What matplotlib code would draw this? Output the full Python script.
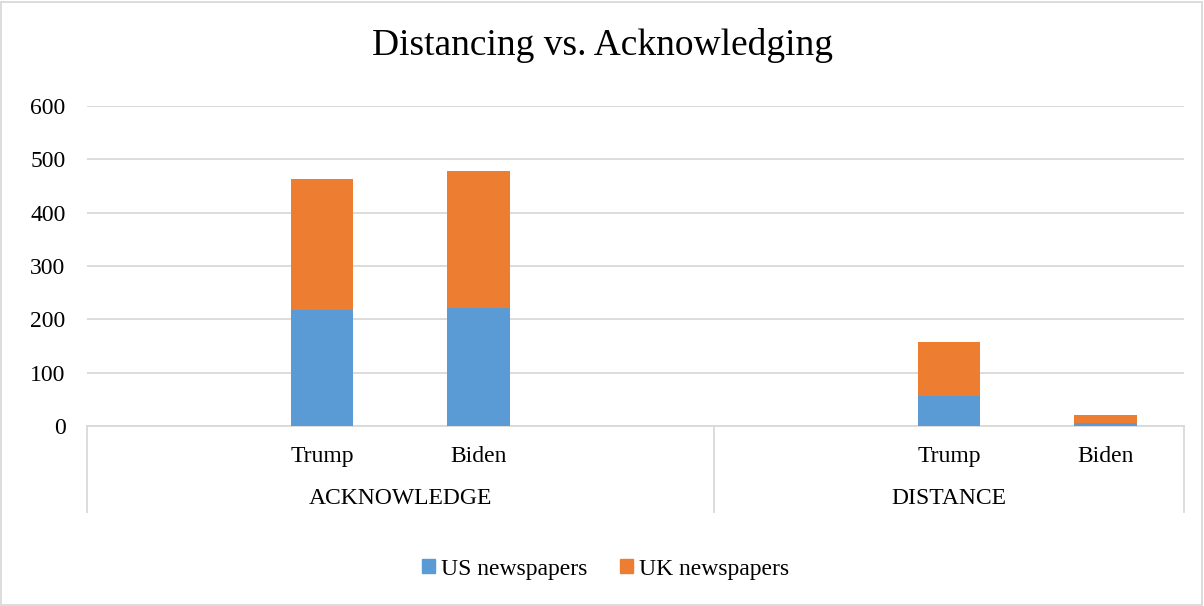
import matplotlib
matplotlib.use("Agg")
import matplotlib.pyplot as plt
import numpy as np
from matplotlib.patches import Patch, Rectangle
from matplotlib.lines import Line2D
import matplotlib.transforms as mtransforms

plt.rcParams["font.family"] = ["Liberation Serif", "DejaVu Serif"]

# -----------------------------------
# DATA (blank slots pad each group, as in the source sheet)
# -----------------------------------

groups = ["ACKNOWLEDGE", "DISTANCE"]
group_sizes = [4, 3]
categories = ["", "Trump", "Biden", "", "", "Trump", "Biden"]

us_papers = [np.nan, 217, 222, np.nan, np.nan, 57, 6]
uk_papers = [np.nan, 247, 257, np.nan, np.nan, 101, 14]

yticks = [0, 100, 200, 300, 400, 500, 600]

BLUE = "#5B9BD5"
ORANGE = "#ED7D31"
GRID = "#D9D9D9"
FS = 17

# -----------------------------------
# FIGURE
# -----------------------------------

fig = plt.figure(figsize=(12.04, 6.06), dpi=100)
ax = fig.add_axes([87 / 1204, 1 - 426 / 606, (1184 - 87) / 1204, 320 / 606])

x = np.arange(len(categories))
us = np.array(us_papers, dtype=float)
uk = np.array(uk_papers, dtype=float)

ax.bar(x, us, width=0.4, color=BLUE, zorder=3)
ax.bar(x, uk, width=0.4, bottom=us, color=ORANGE, zorder=3)

ax.set_xlim(-0.5, len(categories) - 0.5)
ax.set_ylim(0, 600)
ax.set_yticks(yticks)
ax.set_yticklabels([str(t) for t in yticks], fontsize=FS)
ax.yaxis.grid(True, color=GRID, linewidth=1.3, zorder=0)
ax.tick_params(axis="y", length=0, pad=15.5)
ax.set_xticks([])

for side in ["left", "right", "top"]:
    ax.spines[side].set_visible(False)
ax.spines["bottom"].set_color(GRID)
ax.spines["bottom"].set_linewidth(1.3)

# -----------------------------------
# MULTI-LEVEL CATEGORY AXIS
# -----------------------------------

trans = mtransforms.blended_transform_factory(ax.transData, ax.transAxes)

for xi, name in zip(x, categories):
    if name:
        ax.text(xi, -0.096, name, transform=trans, ha="center", va="center",
                fontsize=FS)

edges = np.concatenate([[0], np.cumsum(group_sizes)]) - 0.5
for e in edges:
    ax.add_line(Line2D([e, e], [0, -0.27], transform=trans, color=GRID,
                       linewidth=1.3, clip_on=False))

for name, lo, hi in zip(groups, edges[:-1], edges[1:]):
    ax.text((lo + hi) / 2, -0.228, name, transform=trans, ha="center",
            va="center", fontsize=FS)

# -----------------------------------
# TITLE, LEGEND, BORDER
# -----------------------------------

fig.text(0.5, 1 - 55 / 606, "Distancing vs. Acknowledging", ha="center",
         va="baseline", fontsize=27)

handles = [Patch(color=BLUE, label="US newspapers"),
           Patch(color=ORANGE, label="UK newspapers")]
fig.legend(handles=handles, loc="center", bbox_to_anchor=(0.503, 1 - 569 / 606),
           ncol=2, frameon=False, fontsize=FS, handlelength=0.55,
           handleheight=0.55, handletextpad=0.25, columnspacing=1.4)

fig.patches.append(Rectangle((1 / 1204, 1 / 606), 1201 / 1204, 603 / 606,
                             transform=fig.transFigure, fill=False,
                             edgecolor=GRID, linewidth=1.3))

fig.savefig("out.png", dpi=100)
